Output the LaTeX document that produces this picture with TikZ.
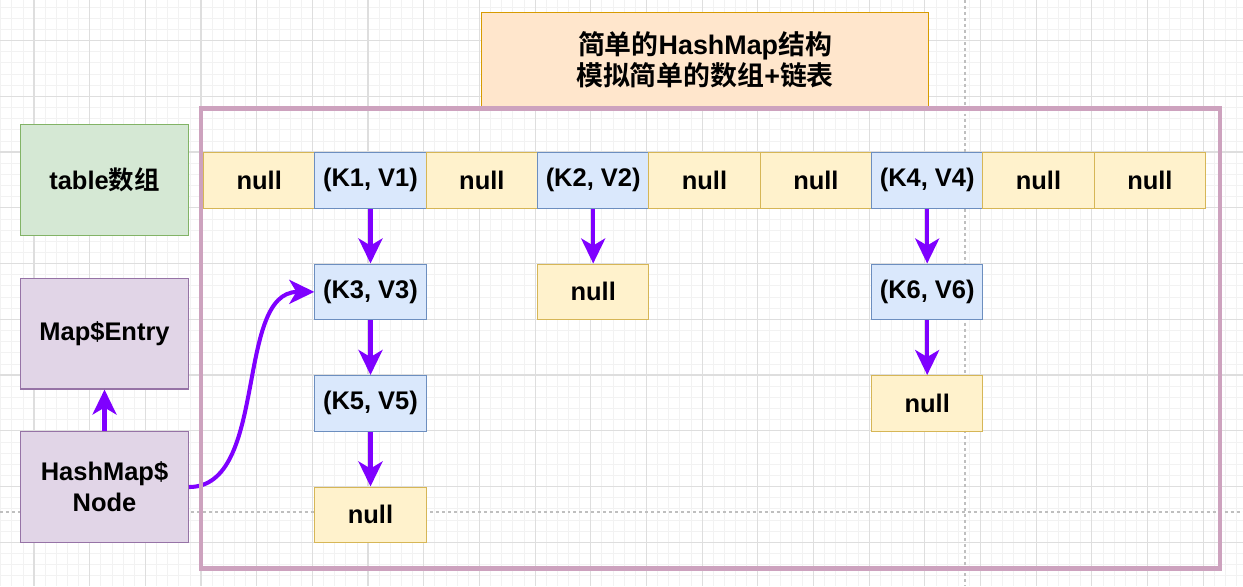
\documentclass[tikz,border=0pt]{standalone}
\usepackage{fontspec}
\setmainfont{Liberation Sans}
\newfontfamily\cjk{Noto Sans CJK SC}[BoldFont={Noto Sans CJK SC Bold}]
\usetikzlibrary{arrows.meta}

\definecolor{nullfill}{HTML}{FFF2CC}
\definecolor{nullline}{HTML}{D6B656}
\definecolor{kvfill}{HTML}{DAE8FC}
\definecolor{kvline}{HTML}{6C8EBF}
\definecolor{greenfill}{HTML}{D5E8D4}
\definecolor{greenline}{HTML}{82B366}
\definecolor{lilacfill}{HTML}{E1D5E7}
\definecolor{lilacline}{HTML}{9673A6}
\definecolor{titlefill}{HTML}{FFE6CC}
\definecolor{titleline}{HTML}{D79B00}
\definecolor{framecol}{HTML}{CDA2BE}
\definecolor{linkcol}{HTML}{7F00FF}

\begin{document}
\begin{tikzpicture}[x=0.02cm, y=-0.02cm,
  every node/.style={font=\bfseries\fontsize{14.5}{17.5}\selectfont, inner sep=0pt},
  cell/.style={draw, line width=0.6pt, minimum width=2.2266cm, minimum height=1.114cm, anchor=north west},
  nul/.style={cell, fill=nullfill, draw=nullline},
  kv/.style={cell, fill=kvfill, draw=kvline},
  side/.style={draw, line width=0.6pt, minimum width=3.36cm, minimum height=2.22cm, anchor=north west, align=center},
  link/.style={draw=linkcol, line width=2.3pt, -{Stealth[length=5mm, width=4.8mm, inset=1.4mm]}},
  gridminor/.style={line width=0.4pt, black!5},
  gridmajor/.style={line width=0.6pt, black!13},
  pagebreak/.style={line width=0.6pt, black!25, dash pattern=on 1.7pt off 1.7pt}]

\useasboundingbox (0,0) rectangle (1243,586);

% background grid
\foreach \k in {-1,...,21} \foreach \m in {1,...,4}
  \draw[gridminor] ({34+\k*55.67+\m*11.134},0) -- ++(0,586);
\foreach \k in {-1,...,9} \foreach \m in {1,...,4}
  \draw[gridminor] (0,{40.5+\k*55.75+\m*11.15}) -- ++(1243,0);
\foreach \k in {0,...,21} \draw[gridmajor] ({34+\k*55.67},0) -- ++(0,586);
\foreach \k in {0,...,9} \draw[gridmajor] (0,{40.5+\k*55.75}) -- ++(1243,0);

\draw[pagebreak] (0,512) -- (1243,512);
\draw[pagebreak] (965,0) -- (965,586);

% title
\node[draw=titleline, fill=titlefill, line width=0.6pt, minimum width=8.94cm, minimum height=1.88cm,
      align=center, anchor=north west, font=\bfseries\fontsize{15.3}{17.6}\selectfont] (title) at (481,12)
     {{\cjk 简单的}HashMap{\cjk 结构}\\{\cjk 模拟简单的数组}+{\cjk 链表}};

% left side
\node[side, fill=greenfill, draw=greenline] (table) at (20,124) {table{\cjk 数组}};
\node[side, fill=lilacfill, draw=lilacline] (entry) at (20,277.5) {Map\$Entry};
\node[side, fill=lilacfill, draw=lilacline] (hnode) at (20,431) {HashMap\$\\Node};

% table array
\node[nul] (c1) at (203,152) {null};
\node[kv]  (c2) at (314.3,152) {(K1, V1)};
\node[nul] (c3) at (425.7,152) {null};
\node[kv]  (c4) at (537,152) {(K2, V2)};
\node[nul] (c5) at (648.3,152) {null};
\node[nul] (c6) at (759.7,152) {null};
\node[kv]  (c7) at (871,152) {(K4, V4)};
\node[nul] (c8) at (982.3,152) {null};
\node[nul] (c9) at (1093.7,152) {null};

% linked lists
\node[kv]  (k3) at (314.3,263.5) {(K3, V3)};
\node[kv]  (k5) at (314.3,375) {(K5, V5)};
\node[nul] (n1) at (314.3,486.5) {null};

\node[nul] (n2) at (537,263.5) {null};

\node[kv]  (k6) at (871,263.5) {(K6, V6)};
\node[nul] (n3) at (871,375) {null};

\draw[link] (c2) -- (k3);
\draw[link] (k3) -- (k5);
\draw[link] (k5) -- (n1);
\draw[link] (c4) -- (n2);
\draw[link] (c7) -- (k6);
\draw[link] (k6) -- (n3);

\draw[link] (hnode) -- (entry);
\draw[link] (hnode.east) .. controls +(80,0) and +(-80,0) .. (k3.west);

% frame
\draw[framecol, line width=2.3pt] (201,108.5) rectangle (1220,568.5);

\end{tikzpicture}
\end{document}
